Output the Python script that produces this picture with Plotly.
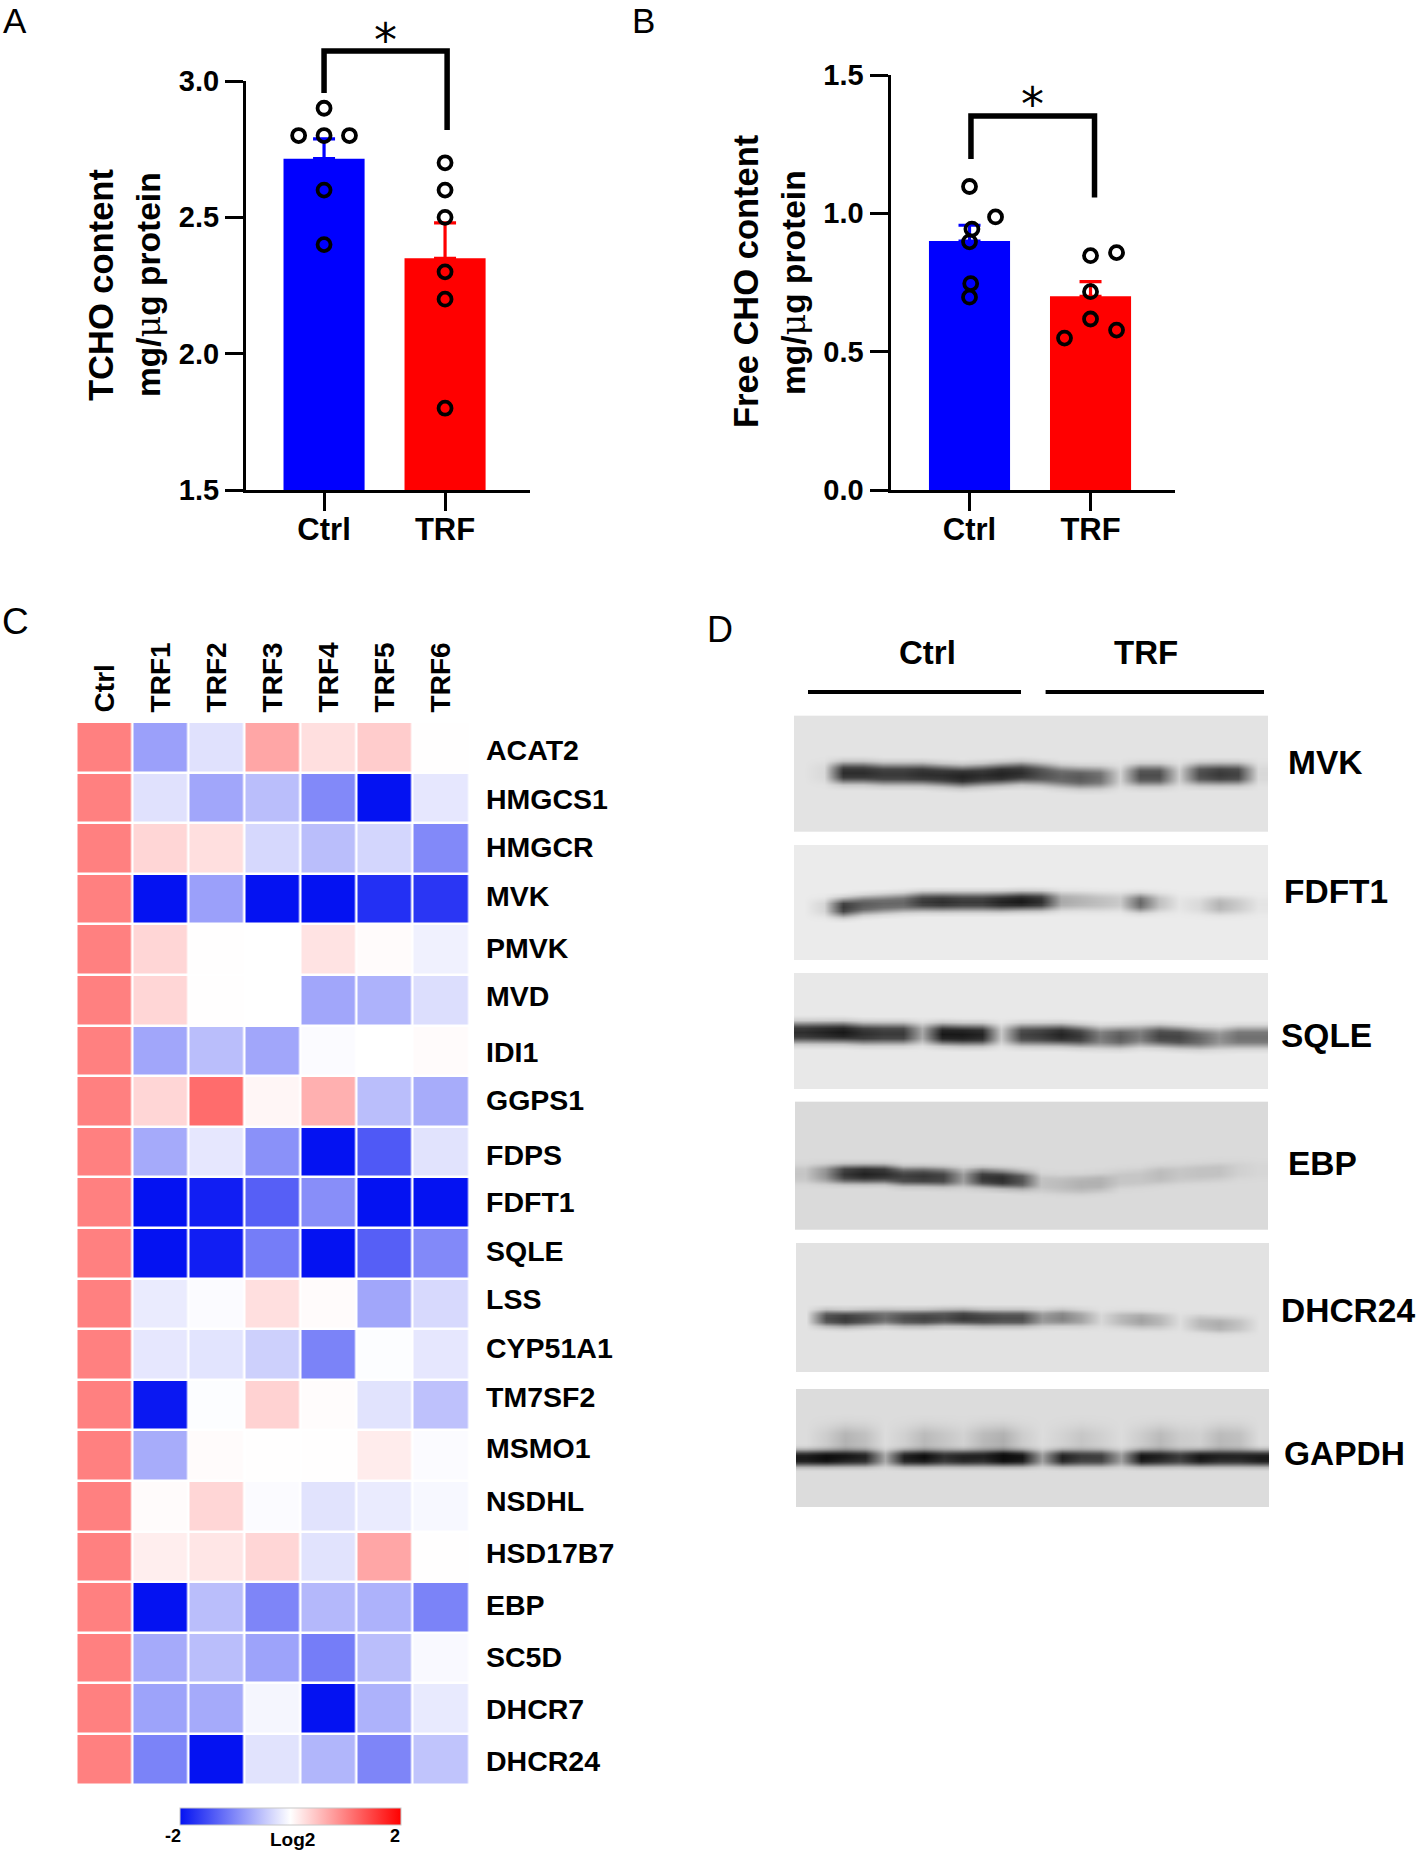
import numpy as np
import plotly.graph_objects as go

W, H = 1418, 1852
FONT = "Liberation Sans"

# ---------- Panel A ----------
groups = ["Ctrl", "TRF"]
a_means = [2.715, 2.35]
a_errs = [0.073, 0.13]
a_ctrl_pts_y = [2.9, 2.8, 2.8, 2.8, 2.6, 2.4]
a_ctrl_pts_x = [0, -0.21, 0, 0.21, 0, 0]
a_trf_pts_y = [2.7, 2.6, 2.5, 2.3, 2.2, 1.8]
a_trf_pts_x = [1, 1, 1, 1, 1, 1]
a_bracket_x = [0, 0, 1.017, 1.017]
a_bracket_y = [2.956, 3.11, 3.11, 2.82]
a_ticks = [1.5, 2.0, 2.5, 3.0]

# ---------- Panel B ----------
b_means = [0.90, 0.70]
b_errs = [0.057, 0.053]
b_ctrl_pts_y = [1.097, 0.987, 0.943, 0.897, 0.746, 0.697]
b_ctrl_pts_x = [0, 0.215, 0.02, 0, 0.01, 0]
b_trf_pts_y = [0.847, 0.858, 0.717, 0.618, 0.578, 0.549]
b_trf_pts_x = [1, 1.215, 1, 1, 1.215, 0.785]
b_bracket_x = [0.012, 0.012, 1.033, 1.033]
b_bracket_y = [1.196, 1.352, 1.352, 1.057]
b_ticks = [0.0, 0.5, 1.0, 1.5]

# ---------- Panel C ----------
samples = ["Ctrl", "TRF1", "TRF2", "TRF3", "TRF4", "TRF5", "TRF6"]
genes = ["ACAT2", "HMGCS1", "HMGCR", "MVK", "PMVK", "MVD", "IDI1", "GGPS1", "FDPS", "FDFT1", "SQLE",
         "LSS", "CYP51A1", "TM7SF2", "MSMO1", "NSDHL", "HSD17B7", "EBP", "SC5D", "DHCR7", "DHCR24"]
log2_values = [
    [1, -0.80, -0.25, 0.70, 0.25, 0.40, 0.01],
    [1, -0.25, -0.75, -0.55, -1.00, -2.00, -0.20],
    [1, 0.32, 0.25, -0.33, -0.55, -0.35, -1.00],
    [1, -2.00, -0.80, -2.00, -2.00, -1.75, -1.70],
    [1, 0.32, 0.01, 0.00, 0.22, 0.03, -0.12],
    [1, 0.32, 0.01, 0.00, -0.75, -0.65, -0.28],
    [1, -0.75, -0.55, -0.75, -0.03, 0.00, 0.03],
    [1, 0.32, 1.15, 0.07, 0.62, -0.55, -0.70],
    [1, -0.72, -0.20, -0.93, -2.00, -1.40, -0.24],
    [1, -2.00, -1.90, -1.35, -0.95, -2.00, -2.00],
    [1, -2.00, -1.90, -1.10, -2.00, -1.35, -1.00],
    [1, -0.17, -0.03, 0.25, 0.03, -0.75, -0.32],
    [1, -0.20, -0.23, -0.40, -1.05, -0.02, -0.20],
    [1, -1.95, -0.02, 0.35, 0.02, -0.24, -0.52],
    [1, -0.70, 0.03, 0.01, 0.01, 0.15, -0.03],
    [1, 0.03, 0.32, -0.03, -0.24, -0.17, -0.06],
    [1, 0.13, 0.20, 0.32, -0.24, 0.70, 0.01],
    [1, -2.00, -0.55, -1.03, -0.60, -0.65, -1.05],
    [1, -0.72, -0.55, -0.78, -1.10, -0.55, -0.05],
    [1, -0.78, -0.72, -0.08, -2.00, -0.65, -0.18],
    [1, -1.05, -2.00, -0.24, -0.62, -1.03, -0.50],
]
gene_label_y = [750, 799, 847, 896, 948, 996, 1052, 1100, 1155, 1202, 1251,
                1299, 1348, 1397, 1448, 1501, 1553, 1605, 1657, 1709, 1761]

# ---------- Panel D: band darkness read across each blot, left to right ----------
blot_names = ["MVK", "FDFT1", "SQLE", "EBP", "DHCR24", "GAPDH"]
blot_label_x = [1285.6, 1282, 1278.7, 1285.6, 1278.7, 1282]
blot_label_y = [762.7, 891.7, 1035, 1163, 1310, 1453]
blot_left = [794, 794, 794, 795, 796, 796]
blot_right = [1268, 1268, 1268, 1268, 1268.5, 1268.5]
blot_top = [715.7, 845, 973, 1101.7, 1243, 1389]
blot_bottom = [831.7, 960, 1089, 1230, 1372, 1506.7]
blot_bg = [227, 235, 232, 218, 226, 220]
blot_halfwidth = [0.07, 0.065, 0.07, 0.055, 0.05, 0.055]
mvk_dark = [0, .05, .85, .85, .8, .8, .85, .85, .9, .85, .9, .85, .7, .6, .65, .55, .08, .7, .7, .1, .7, .8, .75, .05]
mvk_pos = [.49, .49, .49, .49, .50, .50, .50, .51, .52, .51, .50, .49, .50, .52, .53, .53, .52, .51, .51, .51, .50, .50, .50, .50]
fdft1_dark = [0, .1, .8, .65, .6, .6, .8, .85, .8, .8, .9, .95, .85, .3, .25, .2, .15, .6, .2, .03, .08, .25, .15, .03]
fdft1_pos = [.54, .54, .54, .52, .51, .50, .49, .49, .49, .49, .49, .485, .485, .485, .485, .49, .49, .50, .50, .51, .52, .52, .52, .52]
sqle_dark = [.85, .9, .95, .85, .8, .8, .3, .95, .95, .9, .15, .75, .8, .9, .8, .5, .65, .5, .75, .75, .6, .4, .55, .55]
sqle_pos = [.51, .51, .51, .52, .52, .52, .52, .525, .53, .53, .53, .53, .53, .53, .54, .55, .55, .54, .54, .55, .56, .56, .55, .55]
ebp_dark = [.1, .35, .8, .9, .85, .75, .8, .75, .3, .8, .85, .65, .12, .15, .2, .2, .1, .1, .15, .1, .12, .12, .05, .02]
ebp_pos = [.56, .56, .56, .56, .56, .58, .58, .585, .59, .59, .60, .61, .63, .64, .64, .63, .60, .59, .57, .56, .55, .54, .53, .53]
dhcr24_dark = [0, .7, .8, .7, .55, .7, .75, .7, .8, .75, .7, .7, .35, .45, .3, .05, .2, .3, .2, .02, .2, .25, .15, 0]
dhcr24_pos = [.58, .58, .585, .58, .575, .58, .58, .575, .575, .58, .58, .58, .58, .575, .58, .59, .59, .595, .60, .61, .62, .63, .63, .63]
gapdh_dark = [.95, 1, .9, .85, .25, .9, .95, .8, .9, .85, 1, .95, .3, .9, .75, .75, .3, .95, .85, .75, .95, .85, .85, .95]
gapdh_pos = [.585] * 24
gapdh_halo = [0, .08, .2, .14, 0, .06, .17, .11, .05, .17, .22, .08, 0, .05, .11, .06, 0, .08, .17, .08, .06, .17, .14, 0]
gapdh_halo_pos = [.44] * 24
falloff_dist = [0, .6, 1, 1.5, 2.1]
falloff_weight = [1, .92, .58, .14, 0]
blot_dark = [mvk_dark, fdft1_dark, sqle_dark, ebp_dark, dhcr24_dark, gapdh_dark]
blot_pos = [mvk_pos, fdft1_pos, sqle_pos, ebp_pos, dhcr24_pos, gapdh_pos]


def X(px):
    return px / W


def Y(py):
    return 1 - py / H


BLUE, RED = "#0000FF", "#FF0000"
fig = go.Figure()


def bar_panel(xa, ya, means, errs, cx, cy, tx, ty, bx, by, bxa, bya):
    for i, col in enumerate([BLUE, RED]):
        fig.add_trace(go.Bar(x=[i], y=[means[i]], width=0.67, marker=dict(color=col, line_width=0),
                             error_y=dict(type="data", symmetric=False, array=[errs[i]], arrayminus=[0],
                                          color=col, thickness=3.2, width=11),
                             xaxis=xa, yaxis=ya, showlegend=False))
    fig.add_trace(go.Scatter(x=cx + tx, y=cy + ty, mode="markers", xaxis=xa, yaxis=ya, showlegend=False,
                             cliponaxis=False,
                             marker=dict(symbol="circle-open", size=13, color="black", line=dict(width=3.8, color="black"))))
    fig.add_trace(go.Scatter(x=bx, y=by, mode="lines", xaxis=bxa, yaxis=bya, showlegend=False, cliponaxis=False,
                             line=dict(color="black", width=5.5)))


bar_panel("x", "y", a_means, a_errs, a_ctrl_pts_x, a_ctrl_pts_y, a_trf_pts_x, a_trf_pts_y, a_bracket_x, a_bracket_y, "x5", "y5")
bar_panel("x2", "y2", b_means, b_errs, b_ctrl_pts_x, b_ctrl_pts_y, b_trf_pts_x, b_trf_pts_y, b_bracket_x, b_bracket_y, "x2", "y2")

cscale = [[0, "#0412F2"], [0.5, "#FFFFFF"], [1, "#FF0000"]]
fig.add_trace(go.Heatmap(z=log2_values, x=samples, y=genes, zmin=-2, zmax=2, colorscale=cscale, xgap=2.5, ygap=2.5,
                         xaxis="x3", yaxis="y3",
                         colorbar=dict(orientation="h", x=X(290.3), xanchor="center", y=Y(1808), yanchor="top",
                                       len=221, lenmode="pixels", thickness=17, thicknessmode="pixels",
                                       showticklabels=False, ticks="", outlinewidth=1, outlinecolor="#C8C8C8",
                                       xpad=0, ypad=0)))

for i, name in enumerate(blot_names):
    n_rows = 58
    row_edges = np.linspace(0, 1, n_rows + 1)
    rows = (row_edges[:-1] + row_edges[1:]) / 2
    col_edges = np.linspace(blot_left[i], blot_right[i], 25)
    cols = (col_edges[:-1] + col_edges[1:]) / 2
    py = blot_top[i] + rows * (blot_bottom[i] - blot_top[i])
    z = np.full((n_rows, 24), float(blot_bg[i]))
    ink = np.zeros((n_rows, 24))
    for c in range(24):
        ink[:, c] = blot_dark[i][c] * np.interp(np.abs(rows - blot_pos[i][c]) / blot_halfwidth[i], falloff_dist, falloff_weight)
        if name == "GAPDH":
            ink[:, c] += gapdh_halo[c] * np.interp(np.abs(rows - gapdh_halo_pos[c]) / 0.11, falloff_dist, falloff_weight)
    z = z - (z - 12) * np.clip(ink, 0, 1)
    fig.add_trace(go.Heatmap(z=z.tolist(), x=cols.tolist(), y=py.tolist(), zmin=0, zmax=255, zsmooth="best",
                             colorscale=[[0, "#000000"], [1, "#FFFFFF"]], showscale=False,
                             xaxis="x4", yaxis="y4", name=name))

# Ctrl / TRF rules above the blots
fig.add_trace(go.Scatter(x=[808, 1021], y=[692, 692], mode="lines", xaxis="x4", yaxis="y4", showlegend=False,
                         line=dict(color="black", width=4)))
fig.add_trace(go.Scatter(x=[1045.6, 1264], y=[692, 692], mode="lines", xaxis="x4", yaxis="y4", showlegend=False,
                         line=dict(color="black", width=4)))

tickfont = dict(family=FONT, size=29, color="black", weight="bold")
xfont = dict(family=FONT, size=31, color="black", weight="bold")


def xax(domain, rng):
    return dict(domain=[X(domain[0]), X(domain[1])], range=rng, tickmode="array", tickvals=[0, 1], ticktext=groups,
                showgrid=False, zeroline=False, showline=True, linecolor="black", linewidth=3.2,
                ticks="outside", ticklen=18, tickwidth=3.2, tickcolor="black", tickfont=xfont, ticklabelstandoff=-8)


def yax(domain, rng, vals):
    return dict(domain=[Y(domain[1]), Y(domain[0])], range=rng, tickmode="array", tickvals=vals,
                ticktext=[f"{v:.1f}" for v in vals],
                showgrid=False, zeroline=False, showline=True, linecolor="black", linewidth=3.2,
                ticks="outside", ticklen=18, tickwidth=3.2, tickcolor="black", tickfont=tickfont)


annots = []


def note(text, x, y, size=29, bold=True, angle=0, anchor="center", family=FONT):
    annots.append(dict(text=text, x=X(x), y=Y(y), xref="paper", yref="paper", xanchor=anchor, yanchor="middle",
                       showarrow=False, textangle=angle,
                       font=dict(family=family, size=size, color="black", weight="bold" if bold else "normal")))


MU = "<span style='font-family:DejaVu Serif;font-weight:normal'>μ</span>"
note("A", 15, 20.5, 35, False)
note("B", 643, 20.5, 35, False)
note("C", 15.5, 622, 37, False)
note("D", 720, 630, 36, False)
note("TCHO content", 101, 285, 34.5, True, -90)
note(f"mg/{MU}g protein", 148, 285, 33.5, True, -90)
note("Free CHO content", 746, 281, 34.5, True, -90)
note(f"mg/{MU}g protein", 794, 283, 33.5, True, -90)
note("*", 385, 40, 46, False, 0, "center", "DejaVu Sans")
note("*", 1032, 104, 46, False, 0, "center", "DejaVu Sans")
for g, gy in zip(genes, gene_label_y):
    note(g, 484, gy, 28.5, True, 0, "left")
note("-2", 172.6, 1836, 18)
note("2", 395, 1836, 18)
note("Log2", 292.6, 1839, 19)
note("Ctrl", 927, 652.7, 33)
note("TRF", 1146, 652.7, 33)
for n, lx, ly in zip(blot_names, blot_label_x, blot_label_y):
    note(n, lx, ly, 33.5, True, 0, "left")

fig.update_layout(
    width=W, height=H, margin=dict(l=0, r=0, t=0, b=0, pad=0, autoexpand=False),
    paper_bgcolor="white", plot_bgcolor="rgba(0,0,0,0)", barmode="overlay", showlegend=False,
    xaxis=xax((246, 530), [-0.645, 1.702]),
    yaxis=yax((81, 490), [1.5, 3.0], a_ticks),
    xaxis2=dict(xax((890.6, 1175), [-0.652, 1.698]), anchor="y2"),
    yaxis2=dict(yax((75, 490), [0, 1.5], b_ticks), anchor="x2"),
    xaxis3=dict(domain=[X(76.5), X(469)], range=[-0.5, 6.5], side="top", anchor="y3", showgrid=False, zeroline=False,
                tickangle=-90, ticks="outside", ticklen=3, tickcolor="rgba(0,0,0,0)",
                tickfont=dict(family=FONT, size=28, color="black", weight="bold")),
    yaxis3=dict(domain=[Y(1784.5), Y(722)], range=[20.5, -0.5], anchor="x3", showgrid=False, zeroline=False,
                showticklabels=False, ticks=""),
    xaxis4=dict(domain=[X(780), X(1280)], range=[780, 1280], anchor="y4", visible=False),
    yaxis4=dict(domain=[Y(1520), Y(680)], range=[1520, 680], anchor="x4", visible=False),
    xaxis5=dict(domain=[X(246), X(530)], range=[-0.645, 1.702], anchor="y5", visible=False),
    yaxis5=dict(domain=[Y(490), Y(40)], range=[1.5, 3.15], anchor="x5", visible=False),
    annotations=annots,
)

fig.write_html("out.html", post_script="document.body.style.margin='0';", config={"displayModeBar": False})
